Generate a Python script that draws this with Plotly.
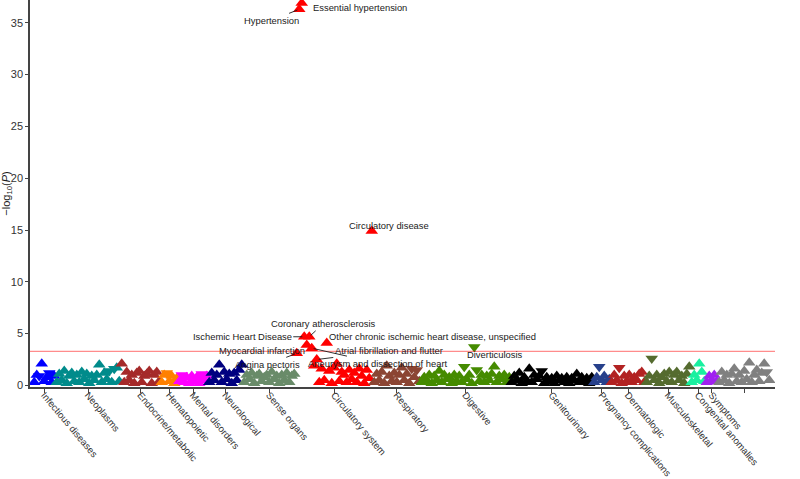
import plotly.graph_objects as go

# PheWAS categories (in phecode order) and their colours
categories = ["Infectious diseases", "Neoplasms", "Endocrine/metabolic", "Hematopoietic",
              "Mental disorders", "Neurological", "Sense organs", "Circulatory system",
              "Respiratory", "Digestive", "Genitourinary", "Pregnancy complications",
              "Dermatologic", "Musculoskeletal", "Congenital anomalies", "Symptoms",
              "Injuries & poisonings"]
colors = ["#0000FF", "#008B8B", "#A52A2A", "#FF8000", "#FF00FF", "#000080", "#698B69",
          "#FF0000", "#8B4533", "#458B00", "#000000", "#27408B", "#B22222", "#556B2F",
          "#19F0A0", "#A020F0", "#808080"]

# signed -log10(P) per phenotype: positive = up triangle, negative = down triangle
infectious = [0.3, 1.0, -0.9, 2.1, 0.4, 0.8, -1.2, 0.3, 0.9]
neoplasms = [0.3, 1.1, 0.5, 1.4, 0.2, 0.9, 1.2, 0.4, 1.0, 0.3, 1.3, 0.6, 1.1, 0.2, 0.9, 0.5,
             1.0, 2.0, 0.3, 1.2, 0.6, -1.4, 0.3, -1.6, 1.7, 0.4]
endocrine = [2.1, 0.3, 1.3, 0.5, 1.0, 0.2, 1.2, 1.4, 0.3, 0.9, 1.1, 1.4, 0.2, 1.0, 1.3, 0.4]
hematopoietic = [0.3, 1.0, -1.2, 0.4, 0.9, 0.2, 0.7]
mental = [0.4, -1.0, 0.3, 0.8, 0.2, 0.9, 0.4, 0.8, 0.2, -1.1, 0.5, 0.9]
neurological = [0.3, 1.2, 0.5, 1.0, 2.0, 0.3, 1.3, 0.6, 1.1, 0.2, 1.2, 0.5, 1.5, 2.0]
sense = [0.3, 1.0, 0.6, 1.2, 0.2, 0.9, 1.1, 0.4, 0.8, 1.0, 0.3, 1.3, 0.6, 0.9, 0.2, 1.0,
         0.5, 1.2, 0.3, 0.9, 1.1]
circulatory = [3.1, 36.3, 36.9, 4.7, 3.9, 4.7, 3.6, 1.9, 2.5, 0.3, 1.6, 0.5, 4.1, 1.4, 0.2,
               1.7, 2.1, 0.4, 1.3, 1.0, 0.3, 1.5, 0.6, 1.2, 0.3, 1.6, 0.9, 0.2, 1.5, 0.7, 14.9]
respiratory = [0.3, 1.1, 0.5, 1.3, 0.2, 1.9, 0.9, 0.4, 1.2, 0.3, 1.0, 1.7, 0.5, 1.1, 0.2,
               -1.6, 0.8, -1.5, 0.4]
digestive = [0.3, 0.8, 0.4, 1.0, 0.2, 0.9, 0.5, 1.4, 0.3, 1.0, 0.6, 0.8, 0.2, 1.0, 0.4, 0.9,
             0.3, -1.8, 0.6, 1.0, 0.2, -3.7, -1.5, 0.4, 1.0, 0.3, 0.9, 0.5, 1.1, 1.8, 0.3,
             0.9, 0.6, 1.0, 0.3, 0.8]
genitourinary = [0.3, 0.9, 0.5, 1.2, 0.2, 0.8, 0.4, 1.6, 0.3, 1.0, 0.6, 0.9, -1.4, 0.2, 0.8,
                 0.4, 0.7, 0.2, 0.9, 0.5, 0.7, 0.3, 0.8, 0.2, 0.7, 0.5, 1.1, 0.3, 0.8, 0.4,
                 0.7, 0.2, 0.8]
pregnancy = [0.3, 0.8, -1.8, 0.5, 0.9, 0.3, 0.6]
dermatologic = [0.3, 1.0, 0.5, -1.7, 0.2, 0.9, 0.4, 1.0, 0.3, 0.8, 0.5, 1.1, 1.3, 0.3]
musculoskeletal = [0.3, 0.9, -2.6, 0.5, 1.0, 0.2, 0.8, 1.1, 0.4, 1.3, 0.3, 1.0, 1.3, 0.5,
                   0.9, 0.2, 1.1, 1.8]
congenital = [0.3, 1.0, 0.5, 2.1, 1.3, 0.4]
symptoms = [0.3, 0.9, 0.5, 1.0, 0.4]
injuries = [0.3, 1.3, 0.5, 1.0, 0.2, 1.1, 1.6, 0.4, 1.0, 0.3, 1.4, 0.6, 2.2, 0.3, 1.0, 1.5,
            0.4, 1.2, 2.1, -1.3, 0.5]

groups = [infectious, neoplasms, endocrine, hematopoietic, mental, neurological, sense,
          circulatory, respiratory, digestive, genitourinary, pregnancy, dermatologic,
          musculoskeletal, congenital, symptoms, injuries]

# labelled phenotypes: (category, position within category, name)
labelled = [
    ("Circulatory system", 1, "Hypertension"),
    ("Circulatory system", 2, "Essential hypertension"),
    ("Circulatory system", 30, "Circulatory disease"),
    ("Circulatory system", 5, "Coronary atherosclerosis"),
    ("Circulatory system", 3, "Ischemic Heart Disease"),
    ("Circulatory system", 12, "Other chronic ischemic heart disease, unspecified"),
    ("Circulatory system", 4, "Myocardial infarction"),
    ("Circulatory system", 8, "Atrial fibrillation and flutter"),
    ("Circulatory system", 0, "Angina pectoris"),
    ("Circulatory system", 6, "Aneurysm and dissection of heart"),
    ("Digestive", 21, "Diverticulosis"),
]
threshold = 3.28

# label placement (pixels): arrow labels use ax/ay, plain labels use shifts
arrow_pos = {
    "Hypertension": (-28, 11),
    "Coronary atherosclerosis": (14, -13),
    "Ischemic Heart Disease": (-62, 0),
    "Myocardial infarction": (-45, 5),
    "Atrial fibrillation and flutter": (72, -9),
    "Angina pectoris": (-29, 11),
    "Aneurysm and dissection of heart": (66, 15),
}
plain_pos = {
    "Essential hypertension": ("left", 9, -4),
    "Circulatory disease": ("center", 17, 6),
    "Other chronic ischemic heart disease, unspecified": ("left", 0, 6),
    "Diverticulosis": ("center", 21, -7),
}

fig = go.Figure()
tickvals = []
start = 0
group_start = {}
for cat, col, vals in zip(categories, colors, groups):
    xs = list(range(start, start + len(vals)))
    group_start[cat] = start
    tickvals.append(start + (len(vals) - 1) / 2)
    fig.add_trace(go.Scatter(
        x=xs, y=[abs(v) for v in vals], mode="markers",
        marker=dict(color=col, size=11,
                    symbol=["triangle-up" if v >= 0 else "triangle-down" for v in vals],
                    line=dict(width=0)),
        showlegend=False, hoverinfo="skip"))
    start += len(vals)
n_total = start

fig.add_hline(y=threshold, line=dict(color="rgba(255,0,0,0.45)", width=1.3))

font_lbl = dict(family="Liberation Sans, Arial", size=9.4, color="#1a1a1a")
for cat, pos, name in labelled:
    vals = groups[categories.index(cat)]
    x = group_start[cat] + pos
    y = abs(vals[pos])
    if name in arrow_pos:
        ax, ay = arrow_pos[name]
        fig.add_annotation(x=x, y=y, text=name, showarrow=True, ax=ax, ay=ay,
                           arrowhead=0, arrowwidth=0.9, arrowcolor="#1a1a1a",
                           standoff=2, font=font_lbl)
    else:
        anchor, dx, dy = plain_pos[name]
        fig.add_annotation(x=x, y=y, text=name, showarrow=False, xanchor=anchor,
                           yanchor="middle", xshift=dx, yshift=dy, font=font_lbl)

axis_font = dict(family="Liberation Sans, Arial", size=9.6, color="#333333")
fig.update_layout(
    width=800, height=479,
    margin=dict(l=30, r=25, t=0, b=92),
    plot_bgcolor="white", paper_bgcolor="white",
    font=dict(family="Liberation Sans, Arial"),
    xaxis=dict(range=[-1.7, n_total + 1.3], tickvals=tickvals, ticktext=categories,
               tickangle=50, tickfont=axis_font, showgrid=False, zeroline=False,
               showline=True, linecolor="#444444", linewidth=1.5, ticklabelstandoff=-7,
               ticks="outside", ticklen=4, tickcolor="#444444", automargin=False),
    yaxis=dict(range=[-0.15, 37.2], tickvals=[0, 5, 10, 15, 20, 25, 30, 35],
               tickfont=dict(family="Liberation Sans, Arial", size=11, color="#333333"),
               showgrid=False, zeroline=False,
               showline=True, linecolor="#444444", linewidth=1.5,
               ticks="outside", ticklen=3, tickcolor="#444444", automargin=False,
               title=dict(text="\u2212log<sub>10</sub>(<i>P</i>)", standoff=4,
                          font=dict(family="Liberation Sans, Arial", size=11,
                                    color="#1a1a1a"))),
)

fig.write_html("out.html", config={"displayModeBar": False},
               post_script="document.body.style.margin='0';")
